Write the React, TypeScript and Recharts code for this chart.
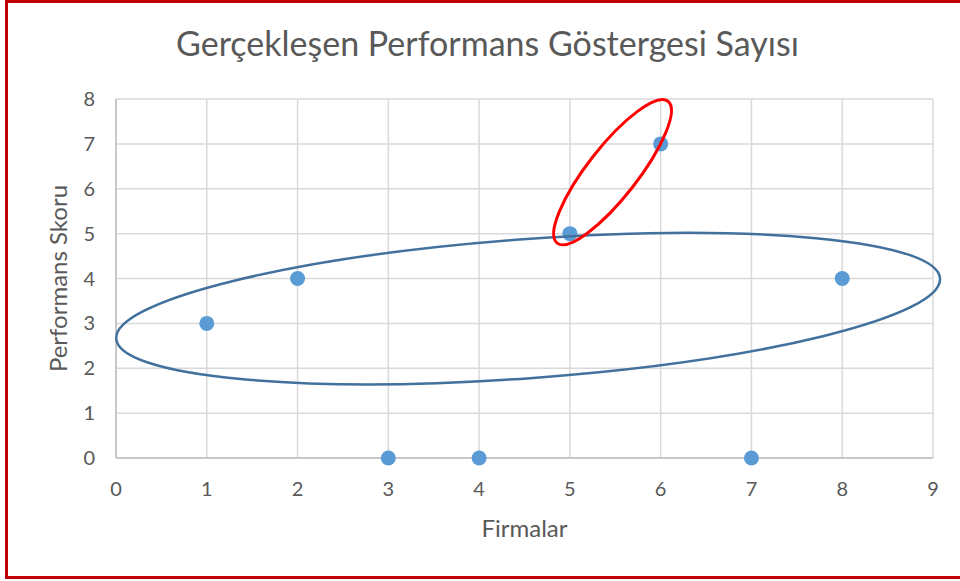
import { ScatterChart, Scatter, XAxis, YAxis, CartesianGrid, ReferenceDot, Label } from "recharts";

const firms = [1, 2, 3, 4, 5, 6, 7, 8];
const scores = [3, 4, 0, 0, 5, 7, 0, 4];
const xTicks = [0, 1, 2, 3, 4, 5, 6, 7, 8, 9];
const yTicks = [0, 1, 2, 3, 4, 5, 6, 7, 8];

// hand-drawn highlight ellipses (center in data units)
const highlightCenters = [
  { x: 4.54, y: 3.33 },
  { x: 5.47, y: 6.37 },
];

const points = firms.map((f, i) => ({ x: f, y: scores[i] }));

const FONT = "Lato, 'Open Sans', sans-serif";
const TEXT = "#595959";

const Dot = (props: any) => <circle cx={props.cx} cy={props.cy} r={7.5} fill="#5b9bd5" />;

const makeEllipse = (rx: number, ry: number, angle: number, color: string, width: number) => (props: any) => (
  <ellipse
    cx={props.cx}
    cy={props.cy}
    rx={rx}
    ry={ry}
    fill="none"
    stroke={color}
    strokeWidth={width}
    transform={`rotate(${angle} ${props.cx} ${props.cy})`}
  />
);

export default function App() {
  return (
    <div style={{ position: "absolute", top: 0, left: 0, width: 960, height: 581, overflow: "hidden", background: "#fff", fontFamily: FONT }}>
      <div
        style={{
          position: "absolute",
          left: 5,
          top: 0,
          width: 980,
          height: 579,
          boxSizing: "border-box",
          border: "3px solid #c00000",
        }}
      />
      <div
        style={{
          position: "absolute",
          left: 0,
          top: 22,
          width: 975,
          textAlign: "center",
          fontSize: 34,
          color: TEXT,
          lineHeight: "42px",
        }}
      >
        Gerçekleşen Performans Göstergesi Sayısı
      </div>
      <div style={{ position: "absolute", left: 0, top: 0 }}>
        <ScatterChart width={960} height={581} margin={{ top: 99, right: 27, bottom: 33, left: 0 }}>
          <CartesianGrid stroke="#d9d9d9" strokeWidth={1.5} />
          <XAxis
            type="number"
            dataKey="x"
            domain={[0, 9]}
            ticks={xTicks}
            interval={0}
            height={90}
            tickSize={0}
            tickMargin={24}
            axisLine={{ stroke: "#bfbfbf", strokeWidth: 1.5 }}
            tick={{ fill: TEXT, fontSize: 20, fontFamily: FONT }}
          >
            <Label value="Firmalar" position="insideBottom" offset={11} style={{ fill: TEXT, fontSize: 24, fontFamily: FONT }} />
          </XAxis>
          <YAxis
            type="number"
            dataKey="y"
            domain={[0, 8]}
            ticks={yTicks}
            interval={0}
            width={116}
            tickSize={0}
            tickMargin={21}
            axisLine={{ stroke: "#bfbfbf", strokeWidth: 1.5 }}
            tick={{ fill: TEXT, fontSize: 20, fontFamily: FONT }}
          >
            <Label
              value="Performans Skoru"
              angle={-90}
              position="insideLeft"
              offset={58}
              style={{ fill: TEXT, fontSize: 24, fontFamily: FONT, textAnchor: "middle" }}
            />
          </YAxis>
          <Scatter data={points} shape={Dot} isAnimationActive={false} />
          <ReferenceDot
            x={highlightCenters[0].x}
            y={highlightCenters[0].y}
            shape={makeEllipse(413, 69.5, -4.2, "#41719c", 2.5)}
          />
          <ReferenceDot
            x={highlightCenters[1].x}
            y={highlightCenters[1].y}
            shape={makeEllipse(90, 25, -52, "#ff0000", 3)}
          />
        </ScatterChart>
      </div>
    </div>
  );
}
